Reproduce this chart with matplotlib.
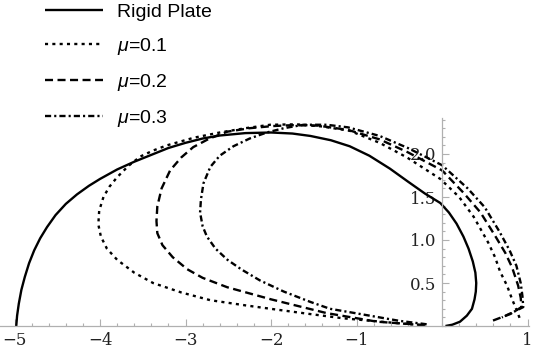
import matplotlib

matplotlib.use("Agg")
import matplotlib.pyplot as plt
from matplotlib.ticker import FixedLocator, MultipleLocator

# Rigid plate (solid)
rigid_x = [-4.98, -4.97, -4.95, -4.92, -4.88, -4.83, -4.77, -4.70, -4.62, -4.52, -4.40, -4.27,
           -4.13, -4.00, -3.80, -3.60, -3.40, -3.20, -3.00, -2.80, -2.60, -2.30, -2.00, -1.75,
           -1.54, -1.30, -1.08, -0.85, -0.61, -0.40, -0.20, -0.02, 0.08, 0.17, 0.25, 0.31,
           0.36, 0.39, 0.40, 0.395, 0.38, 0.35, 0.29, 0.21, 0.12, 0.04]
rigid_y = [0.00, 0.12, 0.26, 0.42, 0.57, 0.73, 0.88, 1.02, 1.15, 1.29, 1.42, 1.53,
           1.63, 1.71, 1.82, 1.91, 1.99, 2.07, 2.13, 2.18, 2.215, 2.243, 2.25, 2.238,
           2.21, 2.16, 2.09, 1.98, 1.83, 1.68, 1.54, 1.43, 1.32, 1.19, 1.04, 0.90,
           0.75, 0.62, 0.50, 0.40, 0.31, 0.20, 0.12, 0.05, 0.015, 0.00]

# mu = 0.1 (dotted)
mu1_x = [-0.25, -0.60, -1.16, -1.55, -1.93, -2.30, -2.71, -3.05, -3.38, -3.60, -3.80, -3.92,
         -3.99, -4.02, -4.01, -3.96, -3.89, -3.80, -3.67, -3.53, -3.38, -3.22, -2.90, -2.60,
         -2.30, -2.01, -1.70, -1.40, -1.08, -0.73, -0.41, -0.02, 0.20, 0.37, 0.54, 0.62,
         0.68, 0.76, 0.82, 0.87, 0.92]
mu1_y = [0.01, 0.04, 0.09, 0.14, 0.19, 0.24, 0.30, 0.39, 0.50, 0.62, 0.77, 0.90,
         1.04, 1.18, 1.34, 1.50, 1.62, 1.73, 1.86, 1.97, 2.04, 2.10, 2.19, 2.25,
         2.30, 2.34, 2.345, 2.32, 2.27, 2.13, 1.96, 1.71, 1.50, 1.27, 0.97, 0.80,
         0.63, 0.47, 0.31, 0.19, 0.06]

# mu = 0.2 (dashed)
mu2_x = [-0.20, -0.76, -1.35, -2.00, -2.51, -2.80, -2.98, -3.15, -3.27, -3.33, -3.34, -3.33,
         -3.28, -3.18, -3.05, -2.91, -2.72, -2.51, -2.25, -1.98, -1.75, -1.45, -1.10, -0.73,
         -0.40, 0.00, 0.25, 0.45, 0.62, 0.74, 0.82, 0.89, 0.92, 0.93, 0.80, 0.56]
mu2_y = [0.01, 0.05, 0.15, 0.31, 0.45, 0.56, 0.66, 0.80, 0.94, 1.08, 1.22, 1.39,
         1.60, 1.81, 1.96, 2.08, 2.18, 2.26, 2.30, 2.325, 2.335, 2.33, 2.28, 2.17,
         2.02, 1.81, 1.55, 1.32, 1.05, 0.85, 0.68, 0.47, 0.33, 0.22, 0.14, 0.05]

# mu = 0.3 (dash-dot)
mu3_x = [-0.18, -0.50, -0.96, -1.31, -1.54, -1.85, -2.13, -2.35, -2.51, -2.65, -2.75, -2.80,
         -2.83, -2.82, -2.79, -2.71, -2.60, -2.44, -2.25, -2.05, -1.85, -1.62, -1.35, -1.10,
         -0.73, -0.40, 0.00, 0.30, 0.50, 0.67, 0.79, 0.87, 0.92, 0.94, 0.95, 0.85, 0.70]
mu3_y = [0.02, 0.06, 0.14, 0.20, 0.28, 0.40, 0.53, 0.66, 0.77, 0.90, 1.04, 1.16,
         1.32, 1.47, 1.66, 1.85, 1.98, 2.09, 2.18, 2.25, 2.30, 2.34, 2.34, 2.31,
         2.21, 2.07, 1.87, 1.60, 1.38, 1.10, 0.88, 0.70, 0.50, 0.35, 0.22, 0.17, 0.10]

labels = ["Rigid Plate", r"$\mu$=0.1", r"$\mu$=0.2", r"$\mu$=0.3"]
x_major = [-5, -4, -3, -2, -1, 1]
y_major = [0.5, 1.0, 1.5, 2.0]
y_labels = ["0.5", "1.0", "1.5", "2.0"]

plt.rcParams["mathtext.fontset"] = "custom"
plt.rcParams["mathtext.it"] = "Liberation Sans:italic"
plt.rcParams["mathtext.rm"] = "Liberation Sans"

fig = plt.figure(figsize=(5.34, 3.48), dpi=100)
ax = fig.add_axes([0.0, 22 / 348, 6.19 * 85.5 / 534, 2.42 * 86 / 348])

lw = 1.7
series = [
    (rigid_x, rigid_y, "-"),
    (mu1_x, mu1_y, (0, (1.3, 1.8))),
    (mu2_x, mu2_y, (0, (3.4, 1.9))),
    (mu3_x, mu3_y, (0, (2.6, 1.3, 0.9, 1.3))),
]
handles = []
for (xs, ys, ls), label in zip(series, labels):
    (line,) = ax.plot(xs, ys, color="black", linewidth=lw, linestyle=ls,
                      label=label, clip_on=False, solid_capstyle="butt", dash_capstyle="butt")
    handles.append(line)

ax.set_xlim(-5.17, 1.02)
ax.set_ylim(0, 2.42)

for side in ["top", "right"]:
    ax.spines[side].set_visible(False)
ax.spines["left"].set_position(("data", 0))
ax.spines["bottom"].set_position(("data", 0))
for side in ["left", "bottom"]:
    ax.spines[side].set_color("#b0b0b0")
    ax.spines[side].set_linewidth(0.9)

ax.xaxis.set_major_locator(FixedLocator(x_major))
ax.xaxis.set_minor_locator(MultipleLocator(0.2))
ax.yaxis.set_major_locator(FixedLocator(y_major))
ax.yaxis.set_minor_locator(MultipleLocator(0.1))
ax.set_xticklabels([str(v).replace("-", "\u2212") for v in x_major])
ax.set_yticklabels(y_labels)

ax.tick_params(which="both", direction="in", color="#b0b0b0", width=0.8)
ax.tick_params(which="major", length=5)
ax.tick_params(which="minor", length=2.5)
ax.tick_params(axis="x", which="major", pad=4)
ax.tick_params(axis="y", which="major", pad=4)
for lab in ax.get_xticklabels() + ax.get_yticklabels():
    lab.set_fontfamily("DejaVu Serif")
    lab.set_fontsize(12)
    lab.set_color("#222222")

fig.legend(handles=handles, labels=labels, loc="upper left",
           bbox_to_anchor=(45 / 534, 1 - 3 / 348), frameon=False,
           prop={"family": "Liberation Sans", "size": 14},
           handlelength=3.0, handletextpad=0.72, labelspacing=0.78,
           borderpad=0.0, borderaxespad=0.0)

fig.savefig("out.png", dpi=100, facecolor="white")
